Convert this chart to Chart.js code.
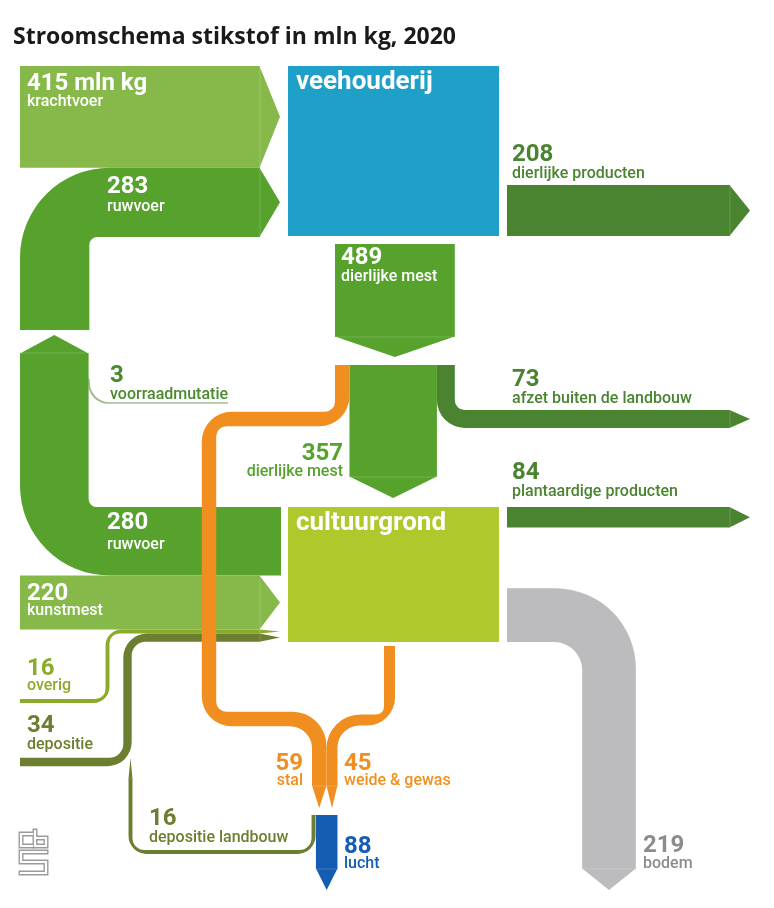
<!DOCTYPE html>
<html>
<head>
<meta charset="utf-8">
<script src="https://cdn.jsdelivr.net/npm/chart.js@4.4.1/dist/chart.umd.min.js"></script>
<style>
  html, body { margin: 0; padding: 0; background: #fff; }
  canvas { display: block; }
</style>
</head>
<body>
<canvas id="flow" width="774" height="908"></canvas>
<script>
// Stikstof flows, mln kg (CBS, 2020)
const titleText = 'Stroomschema stikstof in mln kg, 2020';
const nodeNames = ['veehouderij', 'cultuurgrond'];
const flowNames = [
    'krachtvoer', 'ruwvoer', 'voorraadmutatie', 'dierlijke producten',
    'dierlijke mest', 'dierlijke mest', 'afzet buiten de landbouw',
    'plantaardige producten', 'ruwvoer', 'kunstmest', 'overig', 'depositie',
    'stal', 'weide & gewas', 'lucht', 'depositie landbouw', 'bodem'
];
const flowValues = [415, 283, 3, 208, 489, 357, 73, 84, 280, 220, 16, 34, 59, 45, 88, 16, 219];

const K = 0.245; // drawing units per mln kg

const COLORS = {
    light: '#86b94a',
    mid: '#56a22d',
    dark: '#4a8430',
    veeh: '#1fa0c9',
    cult: '#afc92d',
    orange: '#f08f1f',
    grey: '#bcbcbe',
    lucht: '#145db3',
    olive: '#6c7e2f',
    overig: '#8bab2b',
    thin: '#a3bc93'
};

const v = i => flowValues[i] * K;

// node boxes (drawing units)
const veeh = { x0: 288, x1: 499, y0: 66, y1: 236 };
const cult = { x0: 288, x1: 499, y0: 507, y1: 642 };
const leftX = 20, inEnd = 260, outStart = 507, outEnd = 730;

function buildShapes() {
    const s = [];
    // split under the 489 arrow
    const splitX = 335;
    const x59 = splitX + v(12) / 2;
    const x357 = splitX + v(12) + v(5) / 2;
    const x73 = splitX + v(12) + v(5) + v(6) / 2;
    // merge stem above lucht
    const stemX = 312;
    const xStal = stemX + v(12) / 2;
    const xWeide = stemX + v(12) + v(13) / 2;
    const xLucht = stemX + v(12) + v(13) - v(14) / 2;
    const merge = { rIn: 22, rOut: 34 };

    let y;
    y = veeh.y0 + v(0) / 2;
    s[0] = { path: [[leftX, y], [inEnd, y]], arrow: 20, color: COLORS.light,
        label: { x: 27, y1: 90, y2: 106, color: '#fff', num: '415 mln kg' } };
    y = veeh.y0 + v(0) + v(1) / 2;
    s[1] = { path: [[leftX + v(1) / 2, 330], [leftX + v(1) / 2, y], [inEnd, y]], rIn: 8, rOut: 90,
        arrow: 20, color: COLORS.mid, label: { x: 107, y1: 193, y2: 211, color: '#fff' } };
    s[2] = { path: [[89, 379], [89, 403], [228, 403]], rIn: 20, rOut: 20, minW: 1.5,
        color: COLORS.thin, label: { x: 110, y1: 382, y2: 399, color: '#4a8a2e' } };
    y = veeh.y1 - v(3) / 2;
    s[3] = { path: [[outStart, y], [outEnd, y]], arrow: 20, color: COLORS.dark,
        label: { x: 512, y1: 161, y2: 178, color: COLORS.dark } };
    s[4] = { path: [[splitX + v(4) / 2, 244], [splitX + v(4) / 2, 337]], arrow: 20, color: COLORS.mid,
        label: { x: 341, y1: 264, y2: 281, color: '#fff' } };
    s[5] = { path: [[x357, 365], [x357, 477]], arrow: 21, color: COLORS.mid,
        label: { x: 343, y1: 460, y2: 476, color: COLORS.mid, align: 'right' } };
    s[6] = { path: [[x73, 365], [x73, 419], [outEnd, 419]], rIn: 10, rOut: 28, arrow: 20, color: COLORS.dark,
        label: { x: 512, y1: 386, y2: 403, color: COLORS.dark } };
    y = cult.y0 + v(7) / 2;
    s[7] = { path: [[outStart, y], [outEnd, y]], arrow: 20, color: COLORS.dark,
        label: { x: 512, y1: 479, y2: 496, color: COLORS.dark } };
    y = cult.y0 + v(8) / 2;
    s[8] = { path: [[281, y], [leftX + v(8) / 2, y], [leftX + v(8) / 2, 353]], rIn: 8, rOut: 90,
        arrow: 18, color: COLORS.mid, label: { x: 107, y1: 529, y2: 549, color: '#fff' } };
    y = cult.y0 + v(8) + v(9) / 2;
    s[9] = { path: [[leftX, y], [inEnd, y]], arrow: 20, color: COLORS.light,
        label: { x: 27, y1: 600, y2: 615, color: '#fff' } };
    y = cult.y0 + v(8) + v(9) + v(10) / 2;
    s[10] = { path: [[leftX, 701], [107.5, 701], [107.5, y], [inEnd, y]], rIn: 10, rOut: 16, arrow: 20,
        color: COLORS.overig, label: { x: 27, y1: 675, y2: 690, color: COLORS.overig } };
    y = cult.y0 + v(8) + v(9) + v(10) + v(11) / 2;
    s[11] = { path: [[leftX, 762], [127.5, 762], [127.5, y], [inEnd, y]], rIn: 14, rOut: 24, arrow: 20,
        color: COLORS.olive, label: { x: 27, y1: 732, y2: 749, color: COLORS.olive } };
    s[12] = { path: [[x59, 365], [x59, 419], [209, 419], [209, 719], [xStal, 719, merge], [xStal, 786]],
        rIn: 10, rOut: 30, arrow: 22, color: COLORS.orange,
        label: { x: 303, y1: 770, y2: 785, color: COLORS.orange, align: 'right' } };
    s[13] = { path: [[389.5, 646], [389.5, 720], [xWeide, 720, merge], [xWeide, 786]],
        rIn: 8, rOut: 28, arrow: 22, color: COLORS.orange,
        label: { x: 344, y1: 770, y2: 785, color: COLORS.orange } };
    s[14] = { path: [[xLucht, 815], [xLucht, 869]], arrow: 21, color: COLORS.lucht,
        label: { x: 344, y1: 853, y2: 868, color: COLORS.lucht } };
    s[15] = { path: [[313.5, 815], [313.5, 852], [130.5, 852], [130.5, 778]], rIn: 12, rOut: 18,
        arrow: 20, color: COLORS.olive, label: { x: 149, y1: 825, y2: 842, color: COLORS.olive } };
    y = cult.y1 - v(16) / 2;
    s[16] = { path: [[outStart, y], [609, y], [609, 869]], rIn: 28, rOut: 80, arrow: 21, color: COLORS.grey,
        label: { x: 643, y1: 852, y2: 868, color: '#8c8c8c' } };
    return s;
}

const drawOrder = [2, 0, 1, 8, 9, 10, 11, 3, 4, 5, 6, 7, 16, 14, 15, 12, 13];

function px(chart, p) {
    return { x: chart.scales.x.getPixelForValue(p[0]), y: chart.scales.y.getPixelForValue(p[1]), r: p[2] };
}

function unitPx(chart, u) {
    const xs = chart.scales.x;
    return Math.abs(xs.getPixelForValue(u) - xs.getPixelForValue(0));
}

// filled band along an axis-aligned centre line, with rounded corners
function drawBand(ctx, pts, w, rIn, rOut) {
    const h = w / 2, n = pts.length;
    const dirs = [];
    for (let i = 0; i < n - 1; i++) {
        const dx = pts[i + 1].x - pts[i].x, dy = pts[i + 1].y - pts[i].y;
        const len = Math.hypot(dx, dy);
        dirs.push({ x: dx / len, y: dy / len });
    }
    const nrm = d => ({ x: d.y, y: -d.x });
    const L = [], R = [], rl = [], rr = [];
    for (let i = 0; i < n; i++) {
        let off;
        if (i === 0 || i === n - 1) {
            const nn = nrm(dirs[i === 0 ? 0 : n - 2]);
            off = { x: nn.x * h, y: nn.y * h };
        } else {
            const n1 = nrm(dirs[i - 1]), n2 = nrm(dirs[i]);
            off = { x: (n1.x + n2.x) * h, y: (n1.y + n2.y) * h };
            const cross = dirs[i - 1].x * dirs[i].y - dirs[i - 1].y * dirs[i].x;
            const ri = pts[i].r ? pts[i].r.rIn : rIn;
            const ro = pts[i].r ? pts[i].r.rOut : rOut;
            rl[i] = cross > 0 ? ro : ri;
            rr[i] = cross > 0 ? ri : ro;
        }
        L.push({ x: pts[i].x + off.x, y: pts[i].y + off.y });
        R.push({ x: pts[i].x - off.x, y: pts[i].y - off.y });
    }
    ctx.beginPath();
    ctx.moveTo(L[0].x, L[0].y);
    for (let i = 1; i < n - 1; i++) ctx.arcTo(L[i].x, L[i].y, L[i + 1].x, L[i + 1].y, rl[i]);
    ctx.lineTo(L[n - 1].x, L[n - 1].y);
    ctx.lineTo(R[n - 1].x, R[n - 1].y);
    for (let i = n - 2; i >= 1; i--) ctx.arcTo(R[i].x, R[i].y, R[i - 1].x, R[i - 1].y, rr[i]);
    ctx.lineTo(R[0].x, R[0].y);
    ctx.closePath();
    ctx.fill();
    return dirs[n - 2];
}

function drawArrow(ctx, end, d, w, len) {
    const h = w / 2, nn = { x: d.y, y: -d.x };
    const a = { x: end.x + nn.x * h, y: end.y + nn.y * h };
    const b = { x: end.x - nn.x * h, y: end.y - nn.y * h };
    ctx.beginPath();
    ctx.moveTo(a.x - d.x * 0.5, a.y - d.y * 0.5);
    ctx.lineTo(end.x + d.x * len, end.y + d.y * len);
    ctx.lineTo(b.x - d.x * 0.5, b.y - d.y * 0.5);
    ctx.closePath();
    ctx.fill();
    ctx.save();
    ctx.strokeStyle = 'rgba(255,255,255,0.18)';
    ctx.lineWidth = 1;
    ctx.beginPath();
    ctx.moveTo(a.x, a.y);
    ctx.lineTo(b.x, b.y);
    ctx.stroke();
    ctx.restore();
}

function drawLogo(ctx, chart) {
    const o = px(chart, [18, 830]);
    const paths = [
        [[14, 4], [3, 4], [3, 16], [14, 16]],
        [[17, 1], [17, 16], [28, 16], [28, 8], [17, 8]],
        [[28, 22], [3, 22], [3, 32], [28, 32], [28, 43], [3, 43]]
    ];
    ctx.save();
    ctx.lineJoin = 'miter';
    ctx.lineCap = 'square';
    [[5, '#9b9b9b'], [2.2, '#ffffff']].forEach(([lw, col]) => {
        ctx.lineWidth = lw;
        ctx.strokeStyle = col;
        paths.forEach(p => {
            ctx.beginPath();
            p.forEach((q, i) => i ? ctx.lineTo(o.x + q[0], o.y + q[1]) : ctx.moveTo(o.x + q[0], o.y + q[1]));
            ctx.stroke();
        });
    });
    ctx.restore();
}

const flowPlugin = {
    id: 'flowDiagram',
    afterDraw(chart) {
        const ctx = chart.ctx;
        const shapes = buildShapes();
        ctx.save();

        // title
        const t = px(chart, [13, 44]);
        ctx.fillStyle = '#1a1a1a';
        ctx.font = 'bold 23px "Open Sans", sans-serif';
        ctx.textBaseline = 'alphabetic';
        ctx.fillText(titleText, t.x, t.y);

        // nodes
        [[veeh, COLORS.veeh, 89], [cult, COLORS.cult, 530]].forEach(([b, col, ly], i) => {
            const p0 = px(chart, [b.x0, b.y0]), p1 = px(chart, [b.x1, b.y1]);
            ctx.fillStyle = col;
            ctx.fillRect(p0.x, p0.y, p1.x - p0.x, p1.y - p0.y);
            const lp = px(chart, [b.x0 + 8, ly]);
            ctx.fillStyle = '#fff';
            ctx.font = 'bold 26px Roboto, sans-serif';
            ctx.textAlign = 'left';
            ctx.fillText(nodeNames[i], lp.x, lp.y);
        });

        // flows
        drawOrder.forEach(i => {
            const s = shapes[i];
            const pts = s.path.map(p => px(chart, p));
            const w = Math.max(unitPx(chart, flowValues[i] * K), s.minW || 0);
            ctx.fillStyle = s.color;
            const d = drawBand(ctx, pts, w, s.rIn || 0, s.rOut || 0);
            if (s.arrow) drawArrow(ctx, pts[pts.length - 1], d, w, s.arrow);
        });

        // labels
        shapes.forEach((s, i) => {
            const l = s.label;
            const a = px(chart, [l.x, l.y1]), b = px(chart, [l.x, l.y2]);
            ctx.fillStyle = l.color;
            ctx.textAlign = l.align || 'left';
            ctx.font = 'bold 24px Roboto, sans-serif';
            ctx.fillText(l.num || String(flowValues[i]), a.x, a.y);
            ctx.font = '500 16px Roboto, sans-serif';
            ctx.fillText(flowNames[i], b.x, b.y);
        });

        drawLogo(ctx, chart);
        ctx.restore();
    }
};

new Chart(document.getElementById('flow'), {
    type: 'scatter',
    data: { datasets: [] },
    options: {
        responsive: false,
        animation: false,
        devicePixelRatio: 1,
        layout: { padding: 0 },
        events: [],
        plugins: {
            legend: { display: false },
            tooltip: { enabled: false }
        },
        scales: {
            x: { type: 'linear', min: 0, max: 774, display: false },
            y: { type: 'linear', min: 0, max: 908, reverse: true, display: false }
        }
    },
    plugins: [flowPlugin]
});
</script>
</body>
</html>
